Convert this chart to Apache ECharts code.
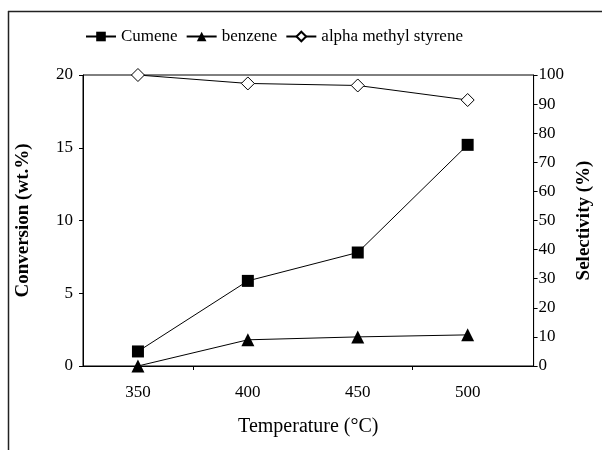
<!DOCTYPE html>
<html>
<head>
<meta charset="utf-8">
<script src="https://cdn.jsdelivr.net/npm/echarts@6/dist/echarts.min.js"></script>
<style>
  html, body { margin: 0; padding: 0; background: #fff; }
  #chart { width: 602px; height: 450px; }
</style>
</head>
<body>
<div id="chart"></div>
<script>
// Reaction temperature (°C)
const temperatures = [350, 400, 450, 500];
// Cumene conversion (wt.%), left axis
const cumene = [1.0, 5.85, 7.8, 15.2];
// Product selectivities (%), right axis
const benzene = [0, 9.0, 10.0, 10.7];
const alphaMethylStyrene = [100, 97.1, 96.4, 91.4];

const xLabels = [350, 400, 450, 500];
const xTicks = [375, 475];

const FONT = 'Liberation Serif';
const pairs = (ys) => temperatures.map((t, i) => [t, ys[i]]);

const chart = echarts.init(document.getElementById('chart'), null, { renderer: 'canvas' });

const lineStyle = { color: '#000', width: 1 };

chart.setOption({
  animation: false,
  backgroundColor: '#fff',
  textStyle: { fontFamily: FONT, color: '#000' },
  graphic: [
    { type: 'line', shape: { x1: 8, y1: 11.5, x2: 602, y2: 11.5 }, style: { stroke: '#222', lineWidth: 1.5 } },
    { type: 'line', shape: { x1: 8.5, y1: 11, x2: 8.5, y2: 450 }, style: { stroke: '#222', lineWidth: 1.5 } }
  ],
  legend: {
    left: 80,
    top: 23,
    itemWidth: 30,
    itemHeight: 12,
    itemGap: 8,
    textStyle: { fontFamily: FONT, fontSize: 17, color: '#000' },
    data: ['Cumene', 'benzene', 'alpha methyl styrene']
  },
  grid: {
    left: 83, right: 62, top: 75, bottom: 84,
    show: true, borderColor: '#000', borderWidth: 1
  },
  xAxis: {
    type: 'value',
    min: 325,
    max: 530,
    name: 'Temperature (°C)',
    nameLocation: 'middle',
    nameGap: 51,
    nameTextStyle: { fontFamily: FONT, fontSize: 20, color: '#000' },
    axisLine: { lineStyle: { color: '#000', width: 1 } },
    axisTick: { customValues: xTicks, length: 4, lineStyle: { color: '#000' } },
    axisLabel: { customValues: xLabels, fontFamily: FONT, fontSize: 17, color: '#000', margin: 18 },
    splitLine: { show: false }
  },
  yAxis: [
    {
      type: 'value',
      position: 'left',
      min: 0, max: 20, interval: 5,
      name: 'Conversion (wt.%)',
      nameLocation: 'middle',
      nameGap: 50,
      nameTextStyle: { fontFamily: FONT, fontSize: 19, fontWeight: 'bold', color: '#000' },
      axisLine: { show: true, lineStyle: { color: '#000', width: 1 } },
      axisTick: { show: true, length: 4, lineStyle: { color: '#000' } },
      axisLabel: { fontFamily: FONT, fontSize: 17, color: '#000', margin: 10 },
      splitLine: { show: false }
    },
    {
      type: 'value',
      position: 'right',
      min: 0, max: 100, interval: 10,
      name: 'Selectivity (%)',
      nameLocation: 'middle',
      nameGap: 36,
      nameTextStyle: { fontFamily: FONT, fontSize: 19, fontWeight: 'bold', color: '#000' },
      axisLine: { show: true, lineStyle: { color: '#000', width: 1 } },
      axisTick: { show: true, length: 4, lineStyle: { color: '#000' } },
      axisLabel: { fontFamily: FONT, fontSize: 17, color: '#000', margin: 5 },
      splitLine: { show: false }
    }
  ],
  series: [
    {
      name: 'Cumene',
      type: 'line',
      yAxisIndex: 0,
      data: pairs(cumene),
      symbol: 'rect',
      symbolSize: 12,
      itemStyle: { color: '#000' },
      lineStyle: lineStyle
    },
    {
      name: 'benzene',
      type: 'line',
      yAxisIndex: 1,
      data: pairs(benzene),
      symbol: 'triangle',
      symbolSize: 13,
      itemStyle: { color: '#000' },
      lineStyle: lineStyle
    },
    {
      name: 'alpha methyl styrene',
      type: 'line',
      yAxisIndex: 1,
      data: pairs(alphaMethylStyrene),
      symbol: 'diamond',
      symbolSize: 13,
      itemStyle: { color: '#fff', borderColor: '#000', borderWidth: 1 },
      lineStyle: lineStyle
    }
  ]
});
</script>
</body>
</html>
